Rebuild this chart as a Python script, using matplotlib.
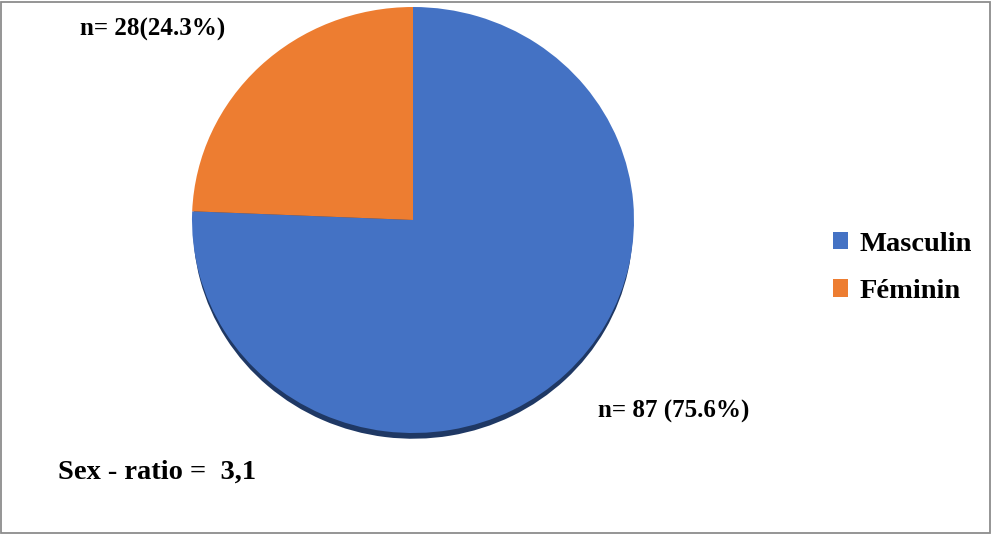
import matplotlib
matplotlib.use("Agg")
import matplotlib.pyplot as plt
from matplotlib.patches import Rectangle

labels = ["Masculin", "Féminin"]
counts = [87, 28]
pct_labels = ["n= 87 (75.6%)", "n= 28(24.3%)"]
colors = ["#4472C4", "#ED7D31"]
ratio_text = "Sex - ratio =  3,1"

W, H = 992, 534
fig = plt.figure(figsize=(W / 100, H / 100), dpi=100)
plt.rcParams["font.family"] = ["Liberation Serif", "DejaVu Serif"]

# pie face spans x 192..634, y 7..433 px; shadow goes a few px lower
left, right, top, bot, shadow = 192, 634, 7, 433, 8
ry = (bot - top) / 2
ax = fig.add_axes([left / W, 1 - (bot + shadow) / H, (right - left) / W, (bot + shadow - top) / H])

# dark rim (3D depth)
ax.pie(counts, colors=["#1F3864", "#1F3864"], startangle=90, counterclock=False,
       center=(0, -shadow / ry * 0.85), radius=0.995, frame=True)
wedges, _ = ax.pie(counts, colors=colors, startangle=90, counterclock=False,
                   radius=1, frame=True)
ax.set_xlim(-1, 1)
ax.set_ylim(-1 - shadow / ry, 1)
ax.set_aspect("auto")
ax.axis("off")

fig.text(80 / W, 1 - 29 / H, pct_labels[1], fontsize=18, fontweight="bold", va="center", ha="left")
fig.text(598 / W, 1 - 411 / H, pct_labels[0], fontsize=18, fontweight="bold", va="center", ha="left")
fig.text(58 / W, 1 - 472 / H, ratio_text, fontsize=20.5, fontweight="bold", va="center", ha="left")

fig.legend(wedges, labels, loc="center left", bbox_to_anchor=(807 / W, 1 - 268 / H),
           frameon=False, prop=dict(size=20.5, weight="bold"),
           handlelength=0.55, handleheight=0.55, handletextpad=0.4, labelspacing=0.78)

fig.patches.append(Rectangle((0.5 / W, 1.5 / H), (W - 2.5) / W, (H - 3) / H,
                             transform=fig.transFigure, fill=False,
                             edgecolor="#8C8C8C", linewidth=1.3))

fig.savefig("out.png", dpi=100)
